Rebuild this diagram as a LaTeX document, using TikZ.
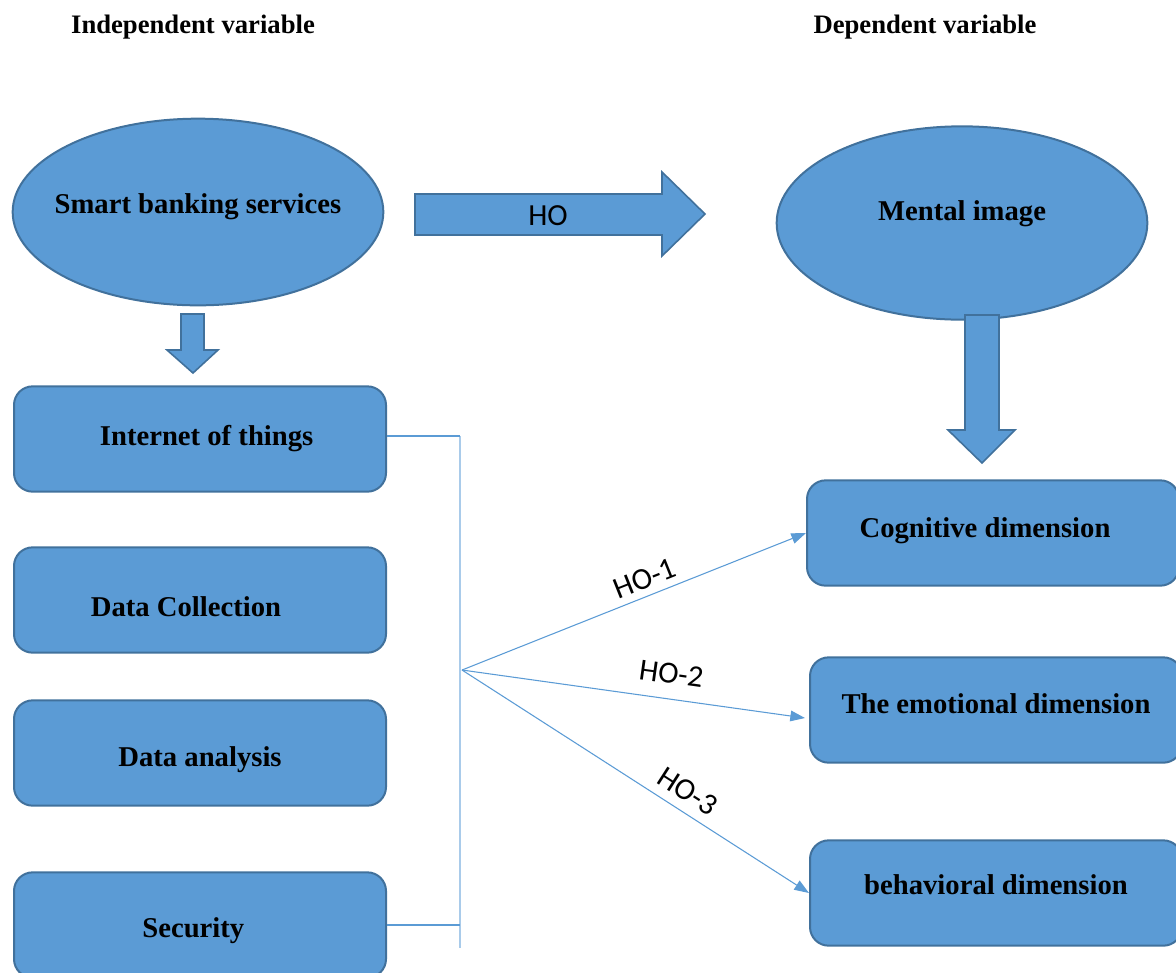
\documentclass[tikz,border=0pt]{standalone}
\usepackage{fontspec}
\setmainfont{Liberation Serif}
\newfontfamily\hofont{Carlito}
\usetikzlibrary{positioning,arrows.meta,shapes.geometric,calc}
\definecolor{boxblue}{HTML}{5B9BD5}
\definecolor{edgeblue}{HTML}{41719C}
\definecolor{spineblue}{HTML}{A9CBEA}

\begin{document}
\begin{tikzpicture}[
  x=0.75pt, y=-0.75pt,
  >={Triangle[length=11pt, width=8pt]},
  title/.style={font=\fontsize{20}{24}\selectfont\bfseries, inner sep=0pt},
  oval/.style={ellipse, draw=edgeblue, fill=boxblue, line width=1.5pt,
               minimum width=278pt, minimum height=142pt, inner sep=0pt,
               font=\fontsize{21.5}{26}\selectfont\bfseries},
  box/.style={rounded corners=14pt, draw=edgeblue, fill=boxblue, line width=1.5pt,
              minimum width=279pt, minimum height=79pt,
              font=\fontsize{21.5}{26}\selectfont\bfseries},
  block/.style={draw=edgeblue, fill=boxblue, line width=1.2pt, line join=miter},
  link/.style={draw=boxblue, line width=0.8pt},
  hyp/.style={link, ->},
  hlbl/.style={font=\hofont\fontsize{23}{27}\selectfont, inner sep=2pt},
]
\useasboundingbox (0,0) rectangle (1176,972);
\clip (0,0) rectangle (1176,972);

% ---- headings ----
\node[title] (indep) at (193,27) {Independent variable};
\node[title] (dep) at (925,27) {Dependent variable};

% ---- variables ----
\node[oval, minimum height=140pt] (smart) at (198,212)
     {\makebox[0pt]{\raisebox{13pt}{Smart banking services}}};
\node[oval, minimum height=145pt] (mental) at (962,223)
     {\makebox[0pt]{\raisebox{19pt}{Mental image}}};

% ---- block arrows ----
\draw[block] (415,194) -- (662,194) -- (662,172) -- (705,214) -- (662,256)
             -- (662,235) -- (415,235) -- cycle;
\node[hlbl] (ho) at (548,216) {HO};
\draw[block] (181,314) -- (204,314) -- (204,350) -- (218,350) -- (193,373)
             -- (167,350) -- (181,350) -- cycle;
\draw[block] (965,315) -- (999,315) -- (999,430) -- (1015,430) -- (982,463)
             -- (948,430) -- (965,430) -- cycle;

% ---- dimensions of the independent variable ----
\node[box] (iot) at (200,439) {\hspace*{10pt}Internet of things};
\node[box] (coll) at (200,600) {\raisebox{-12pt}[0pt][0pt]{Data Collection}\hspace*{21pt}};
\node[box] (anal) at (200,753) {\raisebox{-10pt}[0pt][0pt]{Data analysis}};
\node[box] (sec) at (200,925) {\raisebox{-9pt}[0pt][0pt]{Security}\hspace*{10pt}};

% ---- dimensions of the dependent variable ----
\node[box] (cog) at (993,533) {\raisebox{8pt}{Cognitive dimension}\hspace*{12pt}};
\node[box] (emo) at (996,710) {\raisebox{10pt}{The emotional dimension}};
\node[box] (beh) at (996,893) {\raisebox{12pt}{behavioral dimension}};

% ---- links ----
\coordinate (spinetop) at (460,436);
\coordinate (spinebot) at (460,948);
\coordinate (fan) at (462,670);
\draw[draw=spineblue, line width=1.2pt] (spinetop) -- (spinebot);
\draw[link] (iot.east |- spinetop) -- (spinetop);
\draw[link] (sec.east) -- (sec.east -| spinetop);
\draw[hyp] (fan) -- node[hlbl, sloped, above=3pt, pos=0.55] {HO-1} (cog.west);
\draw[hyp] (fan) -- node[hlbl, sloped, above=9pt, pos=0.6] {HO-2} ($(emo.west)+(-4,8)$);
\draw[hyp] (fan) -- node[hlbl, sloped, above=5pt, pos=0.62] {HO-3} (beh.west);
\end{tikzpicture}
\end{document}
